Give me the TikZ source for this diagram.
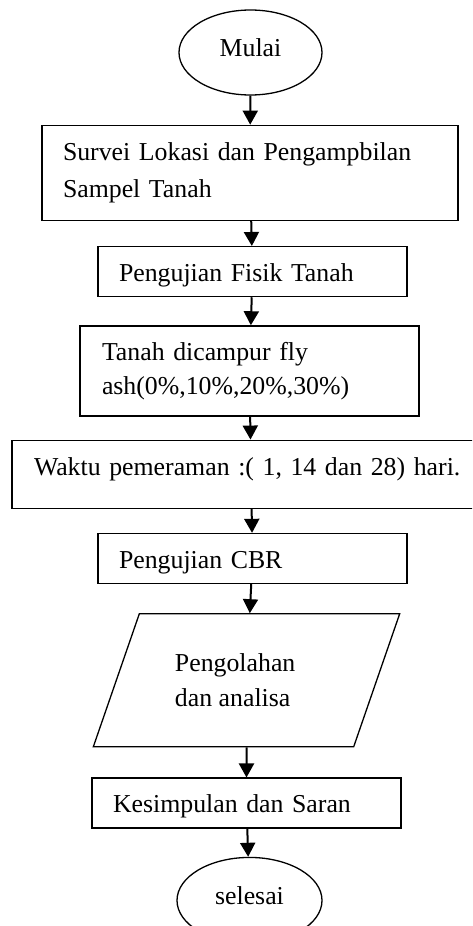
\documentclass[tikz,border=0pt]{standalone}
\usepackage{fontspec}
\setmainfont{Liberation Serif}
\usetikzlibrary{
  shapes.geometric,
  arrows.meta,
  positioning
}

\begin{document}
\begin{tikzpicture}[
    x=1pt, y=-1pt,
    font=\fontsize{25.8}{37}\selectfont,
    term/.style={
      ellipse, draw, line width=1.3pt,
      minimum width=143pt, minimum height=85pt,
      inner sep=0pt, text depth=10pt
    },
    proc/.style={
      rectangle, draw, line width=1.3pt,
      align=left, inner ysep=0pt
    },
    procline/.style={
      proc, text height=24pt, text depth=4pt
    },
    io/.style={
      trapezium, trapezium left angle=60, trapezium right angle=120,
      trapezium stretches=true, draw, line width=1.3pt,
      minimum width=307pt, minimum height=133pt,
      align=left, inner sep=0pt
    },
    arr/.style={-{Triangle[width=15pt,length=14pt]}, line width=2pt},
  ]

  \useasboundingbox (0,0) rectangle (472,926);
  \clip (0,0) rectangle (472,926);

  %% ── Start ─────────────────────────────────────────────────
  \node[term] (mulai) at (250.5,52.5) {Mulai};

  %% ── Process steps ─────────────────────────────────────────
  \node[proc, minimum width=416pt, minimum height=95pt,
        text width=374pt, inner xsep=21pt,
        below=29pt of mulai, xshift=-0.5pt] (survei)
    {Survei Lokasi dan Pengampbilan\\Sampel Tanah};
  \node[procline, minimum width=309pt, minimum height=50pt,
        text width=267pt, inner xsep=21pt,
        below=25pt of survei, xshift=2.5pt] (fisik)
    {Pengujian Fisik Tanah};
  \node[proc, minimum width=339pt, minimum height=90pt,
        text width=295pt, inner xsep=22pt,
        below=28pt of fisik, xshift=-3pt,
        font=\fontsize{25.8}{34}\selectfont] (campur)
    {Tanah dicampur fly\\ash(0\%,10\%,20\%,30\%)};
  \node[proc, minimum width=478pt, minimum height=68pt,
        text width=434pt, inner xsep=22pt, text depth=15pt,
        below=23pt of campur, xshift=1.5pt] (waktu)
    {Waktu pemeraman :( 1, 14 dan 28) hari.};
  \node[procline, minimum width=309pt, minimum height=50pt,
        text width=267pt, inner xsep=21pt,
        below=24pt of waktu, xshift=1.5pt] (cbr)
    {Pengujian CBR};

  %% ── Processing / analysis ─────────────────────────────────
  \node[io, below=29pt of cbr, xshift=-6pt,
        font=\fontsize{25.8}{35}\selectfont] (olah)
    {\makebox[143pt][l]{Pengolahan}\\dan analisa};

  \node[procline, minimum width=309pt, minimum height=50pt,
        text width=267pt, inner xsep=21pt, text depth=5pt,
        below=30pt of olah] (simpul)
    {Kesimpulan dan Saran};

  %% ── End ───────────────────────────────────────────────────
  \node[term, minimum width=145pt, minimum height=86pt,
        below=28pt of simpul, xshift=3pt] (selesai) {selesai};

  %% ── Arrows ────────────────────────────────────────────────
  \draw[arr] (mulai)  -- (survei);
  \draw[arr] (survei) -- (fisik);
  \draw[arr] (fisik)  -- (campur);
  \draw[arr] (campur) -- (waktu);
  \draw[arr] (waktu)  -- (cbr);
  \draw[arr] (cbr)    -- (olah);
  \draw[arr] (olah)   -- (simpul);
  \draw[arr] (simpul) -- (selesai);

\end{tikzpicture}
\end{document}
